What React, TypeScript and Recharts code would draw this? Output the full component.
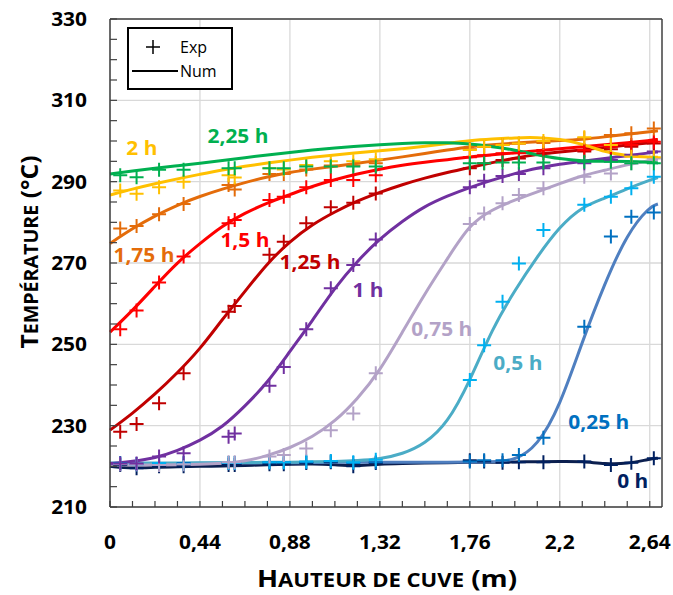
import React from 'react';
import { ComposedChart, Line, Scatter, XAxis, YAxis, CartesianGrid, ReferenceLine, Legend } from 'recharts';

// ---------- data ----------
const X_NUM = [0, 0.11, 0.22, 0.33, 0.44, 0.55, 0.66, 0.77, 0.88, 0.99, 1.1, 1.21, 1.32, 1.43, 1.54, 1.65, 1.76, 1.87, 1.98, 2.09, 2.2, 2.31, 2.42, 2.53, 2.64, 2.68];
const X_EXP = [0.05, 0.13, 0.24, 0.36, 0.58, 0.61, 0.78, 0.85, 0.96, 1.08, 1.19, 1.3, 1.76, 1.83, 1.92, 2.0, 2.12, 2.32, 2.45, 2.55, 2.66];

const NUM_0H = [220.0, 219.5, 219.8, 219.9, 220.0, 220.1, 220.2, 220.4, 220.5, 220.6, 220.4, 220.1, 220.6, 220.7, 220.8, 220.9, 221.0, 221.0, 221.1, 221.1, 221.2, 221.2, 220.6, 220.6, 221.8, 222.0];
const NUM_025H = [220.6, 220.6, 220.7, 220.7, 220.8, 220.8, 220.8, 220.9, 220.9, 220.9, 221.0, 221.0, 221.0, 221.0, 221.0, 221.0, 221.1, 221.1, 221.4, 224.9, 234.7, 250.7, 265.0, 277.3, 283.9, 284.5];
const NUM_05H = [220.8, 220.8, 220.8, 220.8, 220.9, 220.9, 220.9, 221.0, 221.0, 221.1, 221.2, 221.4, 221.8, 223.0, 225.5, 230.5, 240.9, 253.9, 263.3, 271.6, 279.0, 283.9, 285.9, 288.3, 290.4, 291.0];
const NUM_075H = [220.3, 220.3, 220.3, 220.4, 220.5, 220.7, 221.2, 222.6, 224.5, 227.2, 231.0, 236.5, 243.5, 253.0, 262.5, 271.0, 279.6, 283.2, 285.5, 287.5, 289.5, 291.5, 292.8, 294.2, 295.2, 295.5];
const NUM_1H = [220.7, 221.2, 222.0, 223.8, 226.3, 229.6, 234.8, 240.5, 248.3, 255.8, 264.0, 270.5, 276.0, 280.3, 284.0, 286.5, 288.6, 290.4, 292.0, 293.4, 294.3, 295.0, 295.7, 296.4, 297.1, 297.3];
const NUM_125H = [228.9, 233.0, 237.7, 243.0, 248.8, 256.2, 263.0, 270.0, 275.3, 279.5, 282.6, 285.3, 287.4, 289.3, 290.9, 292.3, 293.5, 294.7, 295.8, 296.7, 297.3, 297.8, 298.4, 299.0, 299.6, 299.8];
const NUM_15H = [253.0, 258.3, 264.3, 270.2, 274.8, 279.2, 282.3, 284.8, 286.8, 288.9, 290.5, 291.9, 293.1, 294.1, 294.8, 295.4, 296.1, 296.6, 297.1, 297.6, 298.1, 298.6, 299.1, 299.6, 300.1, 300.4];
const NUM_175H = [274.8, 278.5, 281.6, 284.3, 286.4, 288.2, 289.8, 291.2, 292.3, 293.1, 293.8, 294.5, 295.3, 296.1, 296.9, 297.8, 298.6, 299.1, 299.5, 299.8, 300.1, 300.4, 301.0, 301.7, 302.3, 302.5];
const NUM_2H = [286.7, 288.2, 289.5, 290.7, 291.8, 292.9, 293.8, 294.6, 295.3, 296.0, 296.6, 297.1, 297.6, 298.1, 298.7, 299.4, 300.1, 300.5, 300.8, 300.9, 300.5, 299.3, 297.3, 296.3, 296.0, 296.0];
const NUM_225H = [291.9, 292.6, 293.3, 293.9, 294.5, 295.2, 295.9, 296.6, 297.2, 297.8, 298.3, 298.7, 299.1, 299.4, 299.6, 299.6, 299.3, 298.6, 297.8, 296.6, 295.6, 295.1, 295.0, 295.0, 294.8, 294.6];

const EXP_0H = [220.3, 219.5, 220.0, 220.0, 220.3, 220.3, 220.5, 220.5, 220.8, 221.0, 220.0, 220.8, 221.5, 221.2, 220.9, 221.0, 221.0, 221.2, 220.3, 220.9, 222.0];
const EXP_025H = [220.8, 220.6, 220.8, 220.8, 220.8, 220.8, 221.0, 221.0, 221.0, 221.2, 220.8, 221.0, 221.2, 221.5, 221.5, 222.8, 227.0, 254.3, 276.5, 281.4, 282.4];
const EXP_05H = [220.6, 220.5, 220.8, 220.6, 220.8, 220.8, 221.0, 221.0, 221.2, 221.3, 221.0, 221.6, 241.2, 249.8, 260.5, 269.9, 278.1, 284.3, 286.3, 288.4, 291.2];
const EXP_075H = [220.5, 220.5, 220.3, 220.5, 221.0, 221.0, 222.4, 222.8, 224.4, 228.9, 233.0, 242.9, 279.6, 282.2, 284.7, 286.7, 288.4, 291.2, 292.0, 294.5, 295.7];
const EXP_1H = [220.7, 220.7, 222.4, 223.2, 227.3, 228.1, 239.8, 244.4, 253.7, 263.8, 269.5, 275.8, 288.6, 290.2, 291.4, 291.9, 293.3, 294.5, 295.3, 296.6, 297.4];
const EXP_125H = [228.5, 230.4, 235.5, 242.9, 258.0, 259.4, 272.0, 275.2, 279.8, 283.7, 284.8, 287.1, 293.3, 294.5, 295.3, 295.7, 297.0, 297.4, 298.0, 298.6, 299.4];
const EXP_15H = [253.7, 258.3, 265.2, 271.6, 279.8, 280.6, 285.5, 286.3, 288.6, 290.4, 290.4, 291.6, 296.0, 296.5, 297.0, 297.0, 297.8, 297.8, 298.6, 299.0, 299.8];
const EXP_175H = [278.5, 279.1, 282.0, 284.5, 289.2, 288.1, 291.9, 291.9, 293.0, 294.0, 294.0, 294.5, 298.0, 298.5, 299.0, 299.3, 299.5, 300.7, 301.5, 301.9, 303.1];
const EXP_2H = [287.8, 287.0, 288.6, 290.0, 291.6, 291.0, 293.3, 293.0, 294.1, 295.0, 295.0, 295.5, 297.8, 298.6, 299.0, 299.4, 300.0, 300.9, 299.0, 296.1, 296.0];
const EXP_225H = [291.6, 291.1, 292.9, 292.9, 293.3, 293.3, 293.3, 293.3, 293.7, 293.7, 293.7, 293.7, 294.5, 294.5, 294.7, 294.7, 294.7, 294.9, 294.9, 294.5, 294.5];

const SERIES_NAMES = ['0 h', '0,25 h', '0,5 h', '0,75 h', '1 h', '1,25 h', '1,5 h', '1,75 h', '2 h', '2,25 h'];
const LABEL_X = [2.557, 2.391, 1.995, 1.623, 1.262, 0.978, 0.66, 0.166, 0.156, 0.626];
const LABEL_Y = [216.4, 230.9, 245.4, 253.8, 263.4, 270.2, 275.7, 272.0, 298.3, 301.2];

const NUM_SERIES = [NUM_0H, NUM_025H, NUM_05H, NUM_075H, NUM_1H, NUM_125H, NUM_15H, NUM_175H, NUM_2H, NUM_225H];
const EXP_SERIES = [EXP_0H, EXP_025H, EXP_05H, EXP_075H, EXP_1H, EXP_125H, EXP_15H, EXP_175H, EXP_2H, EXP_225H];

const X_MAJOR_TICKS = [0, 0.44, 0.88, 1.32, 1.76, 2.2, 2.64];
const X_MINOR_TICKS = [0, 0.11, 0.22, 0.33, 0.44, 0.55, 0.66, 0.77, 0.88, 0.99, 1.1, 1.21, 1.32, 1.43, 1.54, 1.65, 1.76, 1.87, 1.98, 2.09, 2.2, 2.31, 2.42, 2.53, 2.64];
const Y_MAJOR_TICKS = [210, 230, 250, 270, 290, 310, 330];
const Y_MINOR_TICKS = [210, 215, 220, 225, 230, 235, 240, 245, 250, 255, 260, 265, 270, 275, 280, 285, 290, 295, 300, 305, 310, 315, 320, 325, 330];

// ---------- styles ----------
const LINE_COLORS = ['#0b1f4f', '#4f7fc0', '#4bacc6', '#b3a2c7', '#7030a0', '#c00000', '#ff0000', '#e46c0a', '#ffc000', '#00b050'];
const MARK_COLORS = ['#002060', '#0070c0', '#00b0f0', '#b3a2c7', '#7030a0', '#c00000', '#ff0000', '#e46c0a', '#ffc000', '#00b050'];
const LABEL_COLORS = ['#002060', '#0070c0', '#4bacc6', '#b3a2c7', '#7030a0', '#c00000', '#ff0000', '#e46c0a', '#ffc000', '#00b050'];
const FONT = '"Open Sans", sans-serif';
const AXIS = '#404040';
const GRID = '#d9d9d9';
const STRETCH = 1.1;

const toPts = (xs: number[], ys: (number | null)[]) =>
  xs.map((x, i) => ({ x, y: ys[i] })).filter((p) => p.y != null);

const fmt = (v: number) => String(v).replace('.', ',');

const XTick = (props: any) => {
  const { x, y, payload } = props;
  const v = payload.value;
  const isMajor = X_MAJOR_TICKS.some((m) => Math.abs(m - v) < 1e-6);
  return (
    <g>
      <line x1={x} x2={x} y1={y} y2={y - 6} stroke={AXIS} strokeWidth={1.2} />
      {isMajor && (
        <text transform={`translate(${x}, ${y + 42}) scale(${STRETCH}, 1)`} x={0} y={0} textAnchor="middle" fontFamily={FONT} fontWeight={700} fontSize={19} fill="#000">
          {fmt(v)}
        </text>
      )}
    </g>
  );
};

const YTick = (props: any) => {
  const { x, y, payload } = props;
  const v = payload.value;
  const isMajor = Y_MAJOR_TICKS.includes(v);
  return (
    <g>
      <line x1={x} x2={x + 7} y1={y} y2={y} stroke={AXIS} strokeWidth={1.2} />
      {isMajor && (
        <text transform={`translate(${x - 23}, ${y + 7}) scale(${STRETCH}, 1)`} x={0} y={0} textAnchor="end" fontFamily={FONT} fontWeight={700} fontSize={19} fill="#000">
          {v}
        </text>
      )}
    </g>
  );
};

const XTitle = (props: any) => {
  const vb = props.viewBox || {};
  const cx = vb.x + vb.width / 2 + 1;
  return (
    <text x={cx} y={587} textAnchor="middle" fontFamily={FONT} fontWeight={700} fill="#000" textLength={260} lengthAdjust="spacingAndGlyphs">
      <tspan fontSize={23.5}>H</tspan>
      <tspan fontSize={18.8}>AUTEUR DE CUVE</tspan>
      <tspan fontSize={23.5}> (m)</tspan>
    </text>
  );
};

const YTitle = (props: any) => {
  const vb = props.viewBox || {};
  const cy = vb.y + vb.height / 2 - 11;
  return (
    <text transform={`translate(38, ${cy}) rotate(-90)`} x={0} y={0} textAnchor="middle" fontFamily={FONT} fontWeight={700} fill="#000" textLength={193} lengthAdjust="spacingAndGlyphs">
      <tspan fontSize={23.5}>T</tspan>
      <tspan fontSize={18.8}>EMPÉRATURE</tspan>
      <tspan fontSize={23.5}> (°C)</tspan>
    </text>
  );
};

const makePlus = (color: string) => (props: any) => {
  const { cx, cy } = props;
  if (cx == null || cy == null) return <g />;
  return <path d={`M${cx - 7},${cy}h14M${cx},${cy - 7}v14`} stroke={color} strokeWidth={2} fill="none" />;
};

const makeLabel = (color: string, text: string) => (props: any) => {
  const { cx, cy } = props;
  if (cx == null || cy == null) return <g />;
  return (
    <text transform={`translate(${cx}, ${cy + 7}) scale(${STRETCH}, 1)`} x={0} y={0} textAnchor="middle" fontFamily={FONT} fontWeight={700} fontSize={19} fill={color}>
      {text}
    </text>
  );
};

const LegendBox = () => (
  <svg width={106} height={63} style={{ display: 'block' }}>
    <rect x={1} y={1} width={104} height={61} fill="#fff" stroke="#000" strokeWidth={2} />
    <path d="M19,20h14M26,13v14" stroke="#000" strokeWidth={1.5} />
    <text x={53} y={26} fontFamily={FONT} fontSize={16} fill="#000">Exp</text>
    <line x1={5} x2={51} y1={44} y2={44} stroke="#000" strokeWidth={2} />
    <text x={53} y={50} fontFamily={FONT} fontSize={16} fill="#000">Num</text>
  </svg>
);

export default function App() {
  return (
    <div style={{ position: 'absolute', left: 0, top: 0, width: 673, height: 595, background: '#fff' }}>
      <ComposedChart width={673} height={595} margin={{ top: 19, right: 11, bottom: 0, left: 10 }}>
        <CartesianGrid horizontalValues={Y_MAJOR_TICKS} verticalValues={X_MAJOR_TICKS} stroke={GRID} strokeWidth={1.3} />
        <XAxis
          type="number"
          dataKey="x"
          domain={[0, 2.7]}
          ticks={X_MINOR_TICKS}
          interval={0}
          tick={XTick}
          tickLine={false}
          tickSize={0}
          tickMargin={0}
          height={88}
          axisLine={{ stroke: AXIS, strokeWidth: 1.5 }}
          label={XTitle}
        />
        <YAxis
          type="number"
          domain={[210, 330]}
          ticks={Y_MINOR_TICKS}
          interval={0}
          tick={YTick}
          tickLine={false}
          tickSize={0}
          tickMargin={0}
          width={100}
          axisLine={{ stroke: AXIS, strokeWidth: 1.5 }}
          label={YTitle}
        />
        <ReferenceLine y={330} stroke={AXIS} strokeWidth={1.5} />
        <ReferenceLine x={2.7} stroke={AXIS} strokeWidth={1.5} />
        {NUM_SERIES.map((ys, i) => (
          <Line
            key={'num' + i}
            data={toPts(X_NUM, ys)}
            dataKey="y"
            type="basis"
            stroke={LINE_COLORS[i]}
            strokeWidth={3}
            dot={false}
            activeDot={false}
            isAnimationActive={false}
            legendType="none"
          />
        ))}
        {EXP_SERIES.map((ys, i) => (
          <Scatter
            key={'exp' + i}
            data={toPts(X_EXP, ys)}
            dataKey="y"
            shape={makePlus(MARK_COLORS[i])}
            isAnimationActive={false}
            legendType="none"
          />
        ))}
        {SERIES_NAMES.map((name, i) => (
          <Scatter
            key={'lab' + i}
            data={[{ x: LABEL_X[i], y: LABEL_Y[i] }]}
            dataKey="y"
            shape={makeLabel(LABEL_COLORS[i], name)}
            isAnimationActive={false}
            legendType="none"
          />
        ))}
        <Legend
          layout="horizontal"
          verticalAlign="middle"
          align="center"
          content={LegendBox}
          wrapperStyle={{ left: 127, top: 27, width: 106, height: 63 }}
        />
      </ComposedChart>
    </div>
  );
}
